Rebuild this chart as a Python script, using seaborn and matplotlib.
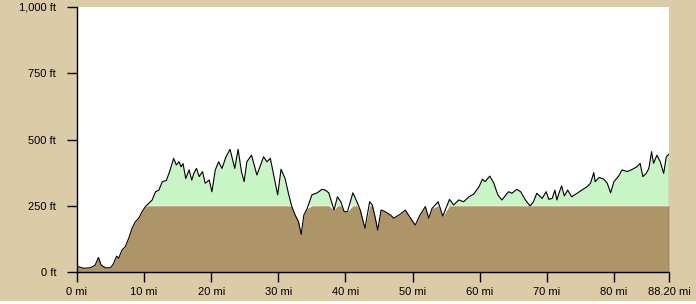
import numpy as np
import pandas as pd
import matplotlib
matplotlib.use("Agg")
import matplotlib.pyplot as plt
import seaborn as sns

miles = [0.0, 0.25, 1.0, 2.0, 2.7, 3.2, 3.6, 4.2, 5.0, 5.4, 5.9, 6.2, 6.7, 7.2, 7.7, 8.2,
         8.7, 9.2, 9.7, 10.2, 10.7, 11.2, 11.7, 12.2, 12.7, 13.3, 13.8, 14.4, 14.8, 15.2,
         15.5, 15.8, 16.2, 16.7, 17.1, 17.4, 17.8, 18.2, 18.7, 19.1, 19.7, 20.1, 20.6,
         21.1, 21.6, 22.2, 22.8, 23.5, 24.0, 24.5, 24.9, 25.3, 26.0, 26.8, 27.8, 28.3,
         28.8, 29.3, 29.9, 30.4, 31.0, 31.5, 32.0, 32.5, 33.0, 33.4, 33.8, 34.3, 35.0,
         35.8, 36.5, 37.0, 37.5, 38.3, 38.8, 39.3, 39.8, 40.3, 41.1, 41.7, 42.2, 42.9,
         43.6, 44.0, 44.4, 44.8, 45.3, 45.9, 46.7, 47.2, 48.2, 48.9, 49.7, 50.4, 51.1,
         51.9, 52.4, 52.9, 53.8, 54.5, 55.5, 56.1, 56.9, 57.6, 58.4, 59.1, 59.9, 60.4,
         60.8, 61.5, 62.1, 62.7, 63.3, 64.3, 64.8, 65.5, 66.1, 66.8, 67.5, 68.0, 68.5,
         69.3, 69.9, 70.3, 70.8, 71.2, 71.5, 71.8, 72.2, 72.6, 73.1, 73.7, 74.5, 75.2,
         76.0, 76.5, 77.0, 77.2, 77.8, 78.5, 79.0, 79.5, 80.0, 80.7, 81.2, 82.0, 82.7,
         83.4, 83.9, 84.3, 84.8, 85.2, 85.6, 85.9, 86.4, 86.9, 87.4, 87.8, 88.2]
elev_ft = [20, 20, 14, 16, 26, 55, 26, 16, 16, 30, 60, 52, 83, 96, 127, 165,
           190, 203, 228, 247, 259, 272, 303, 309, 341, 345, 379, 429, 404, 416,
           397, 409, 353, 385, 347, 372, 391, 360, 379, 335, 347, 303, 385,
           416, 391, 435, 463, 391, 463, 379, 341, 416, 441, 366, 435, 416,
           429, 366, 291, 388, 353, 297, 247, 215, 190, 142, 215, 240, 291,
           299, 312, 309, 299, 234, 284, 265, 228, 228, 299, 265, 234, 165,
           265, 253, 209, 158, 234, 228, 215, 203, 219, 234, 203, 177, 215,
           247, 203, 240, 265, 211, 274, 253, 272, 265, 284, 294, 322, 350,
           341, 362, 335, 291, 272, 303, 297, 312, 303, 272, 249, 265, 297,
           278, 303, 274, 278, 309, 272, 297, 325, 287, 309, 284, 297, 309,
           322, 335, 375, 341, 357, 350, 335, 299, 341, 362, 385, 379, 387,
           397, 410, 360, 372, 391, 454, 410, 441, 416, 372, 435, 445]

yticks = [0, 250, 500, 750, 1000]
ytick_labels = ["0 ft", "250 ft", "500 ft", "750 ft", "1,000 ft"]
xticks = [0, 10, 20, 30, 40, 50, 60, 70, 80, 88.2]
xtick_labels = ["0 mi", "10 mi", "20 mi", "30 mi", "40 mi", "50 mi", "60 mi",
                "70 mi", "80 mi", "88.20 mi"]
threshold = 250

df = pd.DataFrame({"mi": miles, "ft": elev_ft})

tan = "#DBCBA6"
brown = "#AE9568"
green = "#C8F4C6"

sns.set_style("white")
plt.rcParams["font.family"] = ["Liberation Sans", "DejaVu Sans"]

fig = plt.figure(figsize=(6.96, 3.04), dpi=100, facecolor=tan)
ax = fig.add_axes([77 / 696, 32 / 304, 592 / 696, 265 / 304])
ax.set_facecolor("white")

x = df["mi"].to_numpy()
y = df["ft"].to_numpy()
ax.fill_between(x, 0, np.minimum(y, threshold), color=brown, linewidth=0)
ax.fill_between(x, threshold, y, where=y > threshold, interpolate=True,
                color=green, linewidth=0)
sns.lineplot(data=df, x="mi", y="ft", ax=ax, color="black", linewidth=0.8,
             estimator=None, sort=False)
ax.plot([x[-1], x[-1]], [0, y[-1]], color="black", linewidth=0.8)

ax.set_xlim(0, xticks[-1])
ax.set_ylim(yticks[0], yticks[-1])
ax.set_xticks(xticks)
ax.set_xticklabels(xtick_labels)
ax.set_yticks(yticks)
ax.set_yticklabels(ytick_labels)
ax.set_xlabel("")
ax.set_ylabel("")
for s in ["top", "right"]:
    ax.spines[s].set_visible(False)
for s in ["left", "bottom"]:
    ax.spines[s].set_color("black")
    ax.spines[s].set_linewidth(1.0)
ax.tick_params(axis="y", length=7, width=1, color="black", pad=8, labelsize=8,
               labelcolor="black", left=True)
ax.tick_params(axis="x", length=7, width=1, color="black", pad=4, labelsize=8,
               labelcolor="black", bottom=True)
ax.grid(False)

# thin white strip along the bottom edge
strip = plt.Rectangle((0, 0), 1, 3 / 304, transform=fig.transFigure,
                      facecolor="white", edgecolor="none", zorder=1)
fig.add_artist(strip)

fig.savefig("out.png", dpi=100, facecolor=tan)
